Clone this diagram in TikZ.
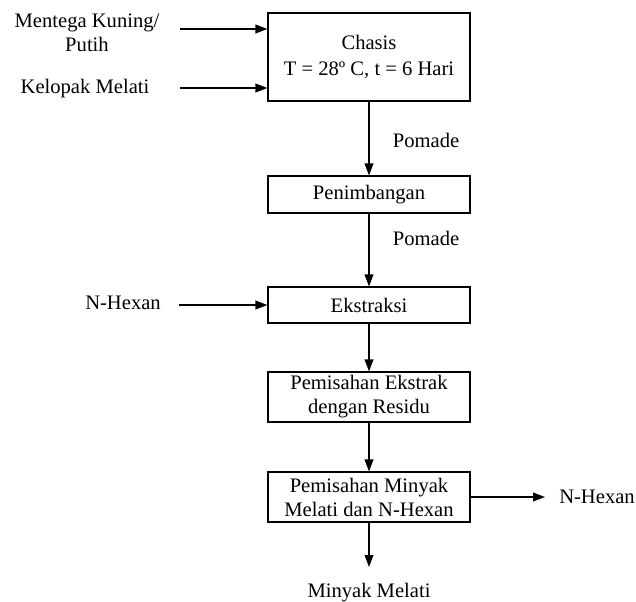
\documentclass[tikz,border=0pt]{standalone}
\usepackage{fontspec}
\setmainfont{Liberation Serif}
\usetikzlibrary{arrows.meta}
\tikzset{
 proses/.style={draw,line width=0.6pt,minimum width=101pt,align=center,inner sep=0pt},
 alir/.style={-{Triangle[length=6pt,width=4.4pt]},line width=0.6pt},
 teks/.style={align=center,inner sep=0pt},
}
\begin{document}
\begin{tikzpicture}[x=0.5pt,y=-0.5pt,font=\fontsize{10.3}{12}\selectfont]
 \useasboundingbox (0,0) rectangle (636,601);
 % kotak proses
 \node[proses,minimum height=44pt] (chasis) at (369,57) {Chasis\\[1pt]T = 28º C, t = 6 Hari};
 \node[proses,minimum height=18.5pt] (timbang) at (369,194.5) {Penimbangan};
 \node[proses,minimum height=18pt] (ekstraksi) at (369,305) {Ekstraksi};
 \node[proses,minimum height=25pt] (pisah1) at (369,397) {Pemisahan Ekstrak\\dengan Residu};
 \node[proses,minimum height=25pt] (pisah2) at (369,497) {Pemisahan Minyak\\Melati dan N-Hexan};
 % teks masuk / keluar
 \node[teks] (mentega) at (87,33) {Mentega Kuning/\\Putih};
 \node[teks] (kelopak) at (85,89) {Kelopak Melati};
 \node[teks] (hexan1) at (123,303) {N-Hexan};
 \node[teks] (hexan2) at (597,497) {N-Hexan};
 \node[teks] (minyak) at (369,593) {Minyak Melati};
 \node[teks] (pomade1) at (426,140) {Pomade};
 \node[teks] (pomade2) at (426,238) {Pomade};
 \coordinate (m1) at (180,29);
 \coordinate (k1) at (180,88);
 \coordinate (h1) at (179,305);
 \coordinate (h2) at (545,497);
 \coordinate (mm) at (369,567);
 % panah
 \draw[alir] (m1) -- (chasis.west |- m1);
 \draw[alir] (k1) -- (chasis.west |- k1);
 \draw[alir] (chasis) -- (timbang);
 \draw[alir] (timbang) -- (ekstraksi);
 \draw[alir] (h1) -- (ekstraksi);
 \draw[alir] (ekstraksi) -- (pisah1);
 \draw[alir] (pisah1) -- (pisah2);
 \draw[alir] (pisah2) -- (h2);
 \draw[alir] (pisah2) -- (mm);
\end{tikzpicture}
\end{document}
